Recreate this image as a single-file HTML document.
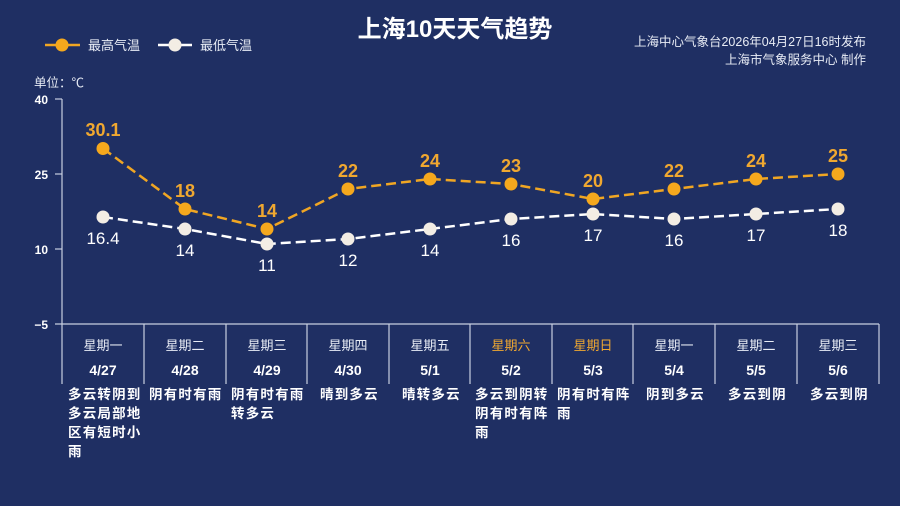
<!DOCTYPE html>
<html><head><meta charset="utf-8"><style>
html,body{margin:0;padding:0;background:#1f2f63;}
svg{display:block;}
text{font-family:"Liberation Sans","Noto Sans CJK SC",sans-serif;}
</style></head><body>
<svg width="900" height="506" viewBox="0 0 900 506">
<rect width="900" height="506" fill="#1f2f63"/>
<text x="455" y="37" fill="#fff" font-size="24" font-weight="bold" text-anchor="middle">上海10天天气趋势</text>
<text x="866" y="46" fill="#e8ecf5" font-size="12.5" text-anchor="end">上海中心气象台2026年04月27日16时发布</text>
<text x="866" y="64" fill="#e8ecf5" font-size="12.5" text-anchor="end">上海市气象服务中心  制作</text>
<line x1="45" y1="45" x2="80" y2="45" stroke="#f0a623" stroke-width="2.5"/>
<circle cx="62" cy="45" r="6.5" fill="#f5a81d"/>
<text x="88" y="50" fill="#e8ecf5" font-size="13">最高气温</text>
<line x1="158" y1="45" x2="192" y2="45" stroke="#fff" stroke-width="2.5"/>
<circle cx="175" cy="45" r="6.5" fill="#f3ede4"/>
<text x="200" y="50" fill="#e8ecf5" font-size="13">最低气温</text>
<text x="34" y="87" fill="#e8ecf5" font-size="12.5">单位：℃</text>
<g fill="#fff" font-size="12" font-weight="bold" text-anchor="end">
<text x="48" y="104">40</text><text x="48" y="179">25</text><text x="48" y="254">10</text><text x="48" y="329">−5</text>
</g>
<g stroke="#c8cfe0" stroke-width="1.2">
<line x1="55" y1="99" x2="62" y2="99"/><line x1="55" y1="174" x2="62" y2="174"/><line x1="55" y1="249" x2="62" y2="249"/>
<line x1="55" y1="324" x2="879" y2="324"/>
<line x1="62" y1="99" x2="62" y2="384"/>
<line x1="144" y1="324" x2="144" y2="384"/><line x1="226" y1="324" x2="226" y2="384"/><line x1="307" y1="324" x2="307" y2="384"/><line x1="389" y1="324" x2="389" y2="384"/><line x1="470" y1="324" x2="470" y2="384"/><line x1="552" y1="324" x2="552" y2="384"/><line x1="633" y1="324" x2="633" y2="384"/><line x1="715" y1="324" x2="715" y2="384"/><line x1="797" y1="324" x2="797" y2="384"/><line x1="879" y1="324" x2="879" y2="384"/>
</g>
<polyline points="103,148.5 185,209 267,229 348,189 430,179 511,184 593,199 674,189 756,179 838,174" fill="none" stroke="#f0a623" stroke-width="2.5" stroke-dasharray="10,5"/>
<polyline points="103,217 185,229 267,244 348,239 430,229 511,219 593,214 674,219 756,214 838,209" fill="none" stroke="#fff" stroke-width="2.5" stroke-dasharray="10,5"/>
<g fill="#f5a81d">
<circle cx="103" cy="148.5" r="6.5"/><circle cx="185" cy="209" r="6.5"/><circle cx="267" cy="229" r="6.5"/><circle cx="348" cy="189" r="6.5"/><circle cx="430" cy="179" r="6.5"/><circle cx="511" cy="184" r="6.5"/><circle cx="593" cy="199" r="6.5"/><circle cx="674" cy="189" r="6.5"/><circle cx="756" cy="179" r="6.5"/><circle cx="838" cy="174" r="6.5"/>
</g>
<g fill="#f3ede4">
<circle cx="103" cy="217" r="6.5"/><circle cx="185" cy="229" r="6.5"/><circle cx="267" cy="244" r="6.5"/><circle cx="348" cy="239" r="6.5"/><circle cx="430" cy="229" r="6.5"/><circle cx="511" cy="219" r="6.5"/><circle cx="593" cy="214" r="6.5"/><circle cx="674" cy="219" r="6.5"/><circle cx="756" cy="214" r="6.5"/><circle cx="838" cy="209" r="6.5"/>
</g>
<g fill="#f0a830" font-size="18" font-weight="bold" text-anchor="middle">
<text x="103" y="136">30.1</text><text x="185" y="197">18</text><text x="267" y="217">14</text><text x="348" y="177">22</text><text x="430" y="167">24</text><text x="511" y="172">23</text><text x="593" y="187">20</text><text x="674" y="177">22</text><text x="756" y="167">24</text><text x="838" y="162">25</text>
</g>
<g fill="#fff" font-size="17" text-anchor="middle">
<text x="103" y="244">16.4</text><text x="185" y="256">14</text><text x="267" y="271">11</text><text x="348" y="266">12</text><text x="430" y="256">14</text><text x="511" y="246">16</text><text x="593" y="241">17</text><text x="674" y="246">16</text><text x="756" y="241">17</text><text x="838" y="236">18</text>
</g>
<g fill="#e8ecf5" font-size="13" text-anchor="middle">
<text x="103" y="350">星期一</text><text x="185" y="350">星期二</text><text x="267" y="350">星期三</text><text x="348" y="350">星期四</text><text x="430" y="350">星期五</text><text x="511" y="350" fill="#f0a830">星期六</text><text x="593" y="350" fill="#f0a830">星期日</text><text x="674" y="350">星期一</text><text x="756" y="350">星期二</text><text x="838" y="350">星期三</text>
</g>
<g fill="#fff" font-size="14" font-weight="bold" text-anchor="middle">
<text x="103" y="375">4/27</text><text x="185" y="375">4/28</text><text x="267" y="375">4/29</text><text x="348" y="375">4/30</text><text x="430" y="375">5/1</text><text x="511" y="375">5/2</text><text x="593" y="375">5/3</text><text x="674" y="375">5/4</text><text x="756" y="375">5/5</text><text x="838" y="375">5/6</text>
</g>
<g fill="#fff" font-size="13.5" font-weight="bold" letter-spacing="1.2">
<text x="68" y="399">多云转阴到</text><text x="68" y="418">多云局部地</text><text x="68" y="437">区有短时小</text><text x="68" y="456">雨</text>
<text x="149" y="399">阴有时有雨</text>
<text x="231" y="399">阴有时有雨</text><text x="231" y="418">转多云</text>
<text x="320" y="399">晴到多云</text>
<text x="402" y="399">晴转多云</text>
<text x="475" y="399">多云到阴转</text><text x="475" y="418">阴有时有阵</text><text x="475" y="437">雨</text>
<text x="557" y="399">阴有时有阵</text><text x="557" y="418">雨</text>
<text x="646" y="399">阴到多云</text>
<text x="728" y="399">多云到阴</text>
<text x="810" y="399">多云到阴</text>
</g>
</svg>
</body></html>
